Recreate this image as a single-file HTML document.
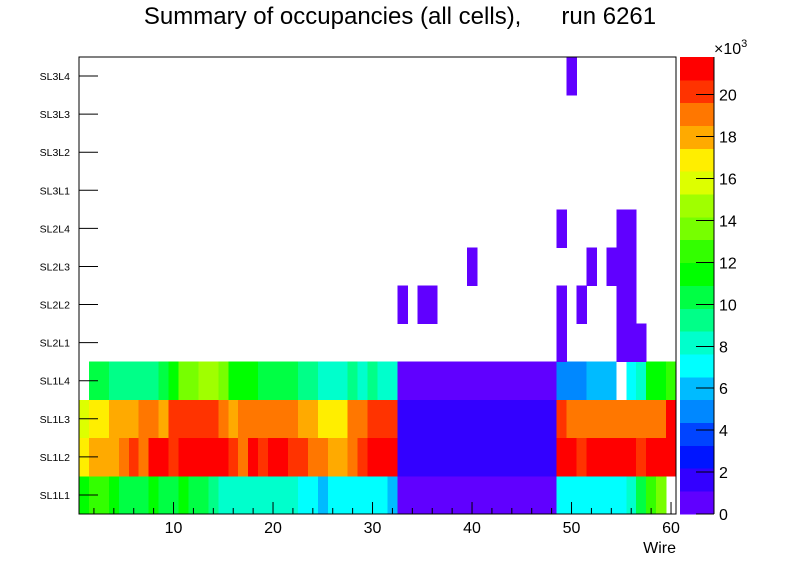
<!DOCTYPE html>
<html><head><meta charset="utf-8"><style>
html,body{margin:0;padding:0;background:#fff;}
svg{display:block;font-family:"Liberation Sans",sans-serif;}
</style></head><body>
<svg id="chart" width="796" height="572" viewBox="0 0 796 572">
<text x="400" y="24" font-size="24" text-anchor="middle" xml:space="preserve">Summary of occupancies (all cells),      run 6261</text>
<g id="cells" shape-rendering="crispEdges"></g>
<g id="axes"></g>
<g id="palette" shape-rendering="crispEdges"></g>
</svg>
<script>
const layers = ["SL1L1","SL1L2","SL1L3","SL1L4","SL2L1","SL2L2","SL2L3","SL2L4","SL3L1","SL3L2","SL3L3","SL3L4"];
const sl1l1 = [11.4,12.5,12.5,11.4,10.4,10.4,10.4,11.4,10.4,10.4,11.4,10.4,10.4,9.3,8.2,8.2,8.2,8.2,8.2,8.2,8.2,8.2,7.1,7.1,6.0,7.1,7.1,7.1,7.1,7.1,7.1,6.0,0.5,0.5,0.5,0.5,0.5,0.5,0.5,0.5,0.5,0.5,0.5,0.5,0.5,0.5,0.5,0.5,7.1,7.1,7.1,7.1,7.1,7.1,7.1,8.2,10.4,12.5,13.6,0];
const sl1l2 = [16.9,17.9,17.9,17.9,19.1,20.2,19.1,21.3,21.3,20.2,21.3,21.3,21.3,21.3,21.3,20.2,19.1,21.3,20.2,21.3,21.3,20.2,20.2,19.1,19.1,17.9,17.9,19.1,20.2,21.3,21.3,21.3,1.6,1.6,1.6,1.6,1.6,1.6,1.6,1.6,1.6,1.6,1.6,1.6,1.6,1.6,1.6,1.6,21.3,21.3,20.2,21.3,21.3,21.3,21.3,21.3,20.2,21.3,21.3,21.3];
const sl1l3 = [15.8,16.9,16.9,17.9,17.9,17.9,19.1,19.1,17.9,20.2,20.2,20.2,20.2,20.2,19.1,17.9,19.1,19.1,19.1,19.1,19.1,19.1,17.9,17.9,16.9,16.9,16.9,19.1,19.1,20.2,20.2,20.2,1.6,1.6,1.6,1.6,1.6,1.6,1.6,1.6,1.6,1.6,1.6,1.6,1.6,1.6,1.6,1.6,20.2,19.1,19.1,19.1,19.1,19.1,19.1,19.1,19.1,19.1,19.1,21.3];
const sl1l4 = [0,10.4,10.4,9.3,9.3,9.3,9.3,9.3,10.4,11.4,13.6,13.6,14.7,14.7,13.6,11.4,11.4,11.4,10.4,10.4,10.4,10.4,9.3,9.3,8.2,8.2,8.2,9.3,8.2,9.3,8.2,8.2,0.5,0.5,0.5,0.5,0.5,0.5,0.5,0.5,0.5,0.5,0.5,0.5,0.5,0.5,0.5,0.5,4.9,4.9,4.9,6.0,6.0,6.0,0,7.1,8.2,11.4,11.4,12.5];
const sl2l1 = [[49,0.5],[55,0.5],[56,0.5],[57,0.5]];
const sl2l2 = [[33,0.5],[35,0.5],[36,0.5],[49,0.5],[51,0.5],[55,0.5],[56,0.5]];
const sl2l3 = [[40,0.5],[52,0.5],[54,0.5],[55,0.5],[56,0.5]];
const sl2l4 = [[49,0.5],[55,0.5],[56,0.5]];
const sl3l1 = [];
const sl3l2 = [];
const sl3l3 = [];
const sl3l4 = [[50,0.5]];
const xTicks = [10,20,30,40,50,60];
const zTicks = [0,2,4,6,8,10,12,14,16,18,20];
const palette = ["#6000ff","#3300ff","#0015ff","#0044ff","#0088ff","#00bbff","#00ffff","#00ffcc","#00ff88","#00ff44","#00ff00","#33ff00","#77ff00","#a0ff00","#ddff00","#ffee00","#ffaa00","#ff7700","#ff3300","#ff0000"];

const NS="http://www.w3.org/2000/svg";
const X0=79,X1=676,Y0=57,Y1=514,NW=60,ZMAX=21.8;
const bw=(X1-X0)/NW, rh=(Y1-Y0)/layers.length;
function xs(w){return X0+(w-0.5)*bw;}
function rowTop(k){return Y1-rh*(k+1);}
function zs(v){return Y1-v/ZMAX*(Y1-Y0);}
function col(v){let i=Math.floor(v/(ZMAX/20));return palette[Math.max(0,Math.min(19,i))];}
function mk(t,a,p){const e=document.createElementNS(NS,t);for(const k in a)e.setAttribute(k,a[k]);p.appendChild(e);return e;}
const cells=document.getElementById('cells'),axes=document.getElementById('axes'),pal=document.getElementById('palette');
function fullRow(pairs){const r=new Array(NW).fill(0);pairs.forEach(p=>{r[p[0]-1]=p[1];});return r;}
const rows=[sl1l1,sl1l2,sl1l3,sl1l4,fullRow(sl2l1),fullRow(sl2l2),fullRow(sl2l3),fullRow(sl2l4),fullRow(sl3l1),fullRow(sl3l2),fullRow(sl3l3),fullRow(sl3l4)];
rows.forEach((r,k)=>{r.forEach((v,i)=>{if(v<=0)return;
 const x=xs(i+1)-bw/2;
 const e=mk('rect',{x:x.toFixed(2),y:rowTop(k).toFixed(2),width:(bw+0.4).toFixed(2),height:(rh+0.4).toFixed(2),fill:col(v)},cells);
 
 
});});
const frame=mk('rect',{x:X0,y:Y0,width:X1-X0,height:Y1-Y0,fill:'none',stroke:'#000','stroke-width':1},axes);


layers.forEach((l,k)=>{const y=rowTop(k)+rh/2;
 const t=mk('line',{x1:X0,x2:X0+19,y1:y,y2:y,stroke:'#000'},axes);
 
 
 const lb=mk('text',{x:70,y:y+4,'font-size':10.5,'text-anchor':'end'},axes);lb.textContent=l;
 
 
});
for(let w=2;w<=60;w+=2){const x=xs(w);const maj=w%10===0;
 const t=mk('line',{x1:x,x2:x,y1:Y1,y2:Y1-(maj?12:6),stroke:'#000'},axes);
 
 }
xTicks.forEach(w=>{const lb=mk('text',{x:xs(w),y:533,'font-size':16,'text-anchor':'middle'},axes);lb.textContent=w;
 
 });
const xt=mk('text',{x:676,y:553,'font-size':16,'text-anchor':'end'},axes);xt.textContent='Wire';


const PX0=680,PX1=714;
palette.forEach((c,i)=>{const y0=zs((i+1)*ZMAX/20),y1=zs(i*ZMAX/20);
 const r=mk('rect',{x:PX0,y:y0.toFixed(2),width:PX1-PX0,height:(y1-y0+0.4).toFixed(2),fill:c},pal);
 
 });
const pl=mk('line',{x1:PX1,x2:PX1,y1:Y0,y2:Y1,stroke:'#000'},pal);


zTicks.forEach(v=>{const y=zs(v);
 const t=mk('line',{x1:PX1-18,x2:PX1,y1:y,y2:y,stroke:'#000'},pal);
 
 
 const lb=mk('text',{x:719,y:y+6,'font-size':16},pal);lb.textContent=v;
 
 });
const ex=mk('text',{x:714,y:54,'font-size':16},pal);ex.innerHTML='×10<tspan dy="-7" font-size="11">3</tspan>';


</script>
</body></html>
